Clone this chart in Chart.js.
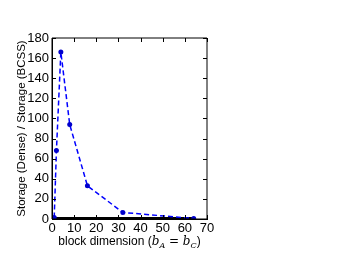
<!DOCTYPE html>
<html>
<head>
<meta charset="utf-8">
<script src="https://cdn.jsdelivr.net/npm/chart.js@4/dist/chart.umd.min.js"></script>
<style>
  html, body { margin: 0; padding: 0; background: #fff; }
  #wrap { width: 346px; height: 260px; position: relative; }
</style>
</head>
<body>
<div id="wrap"><canvas id="storageChart"></canvas></div>
<script>
// block sizes and storage ratio (dense / BCSS)
const blockDims = [1, 2, 4, 8, 16, 32, 64];
const ratioBCSS = [1.5, 68, 166, 94, 33, 6.5, 0.5];
const ratioBase = [1, 1, 1, 1, 1, 1, 1];
const xTicks = [0, 10, 20, 30, 40, 50, 60, 70];
const yTicks = [0, 20, 40, 60, 80, 100, 120, 140, 160, 180];

const toPoints = (xs, ys) => xs.map((x, i) => ({ x: x, y: ys[i] }));

// inward ticks on all four sides + top/right frame + x title with subscripts
const framePlugin = {
    id: 'frame',
    afterDraw(chart) {
        const ctx = chart.ctx;
        const a = chart.chartArea;
        const xs = chart.scales.x, ys = chart.scales.y;
        ctx.save();
        ctx.strokeStyle = '#000';
        ctx.lineWidth = 1;
        ctx.beginPath();
        ctx.rect(a.left, a.top, a.right - a.left, a.bottom - a.top);
        ctx.stroke();
        ctx.beginPath();
        xTicks.forEach(v => {
            const px = Math.round(xs.getPixelForValue(v)) + 0.5;
            ctx.moveTo(px, a.bottom); ctx.lineTo(px, a.bottom - 4);
            ctx.moveTo(px, a.top); ctx.lineTo(px, a.top + 4);
        });
        yTicks.forEach(v => {
            const py = Math.round(ys.getPixelForValue(v)) + 0.5;
            ctx.moveTo(a.left, py); ctx.lineTo(a.left + 4, py);
            ctx.moveTo(a.right, py); ctx.lineTo(a.right - 4, py);
        });
        ctx.stroke();

        // x axis title: block dimension (b_A = b_C)
        const parts = [
            { t: 'block dimension (', f: '12px "Liberation Sans"', dy: 0 },
            { t: 'b', f: 'italic 12px "DejaVu Serif"', dy: 0 },
            { t: 'A', f: 'italic 8px "DejaVu Serif"', dy: 3 },
            { t: ' = ', f: '12px "DejaVu Serif"', dy: 0 },
            { t: 'b', f: 'italic 12px "DejaVu Serif"', dy: 0 },
            { t: 'C', f: 'italic 8px "DejaVu Serif"', dy: 3 },
            { t: ')', f: '12px "Liberation Sans"', dy: 0 }
        ];
        let total = 0;
        parts.forEach(p => { ctx.font = p.f; p.w = ctx.measureText(p.t).width; total += p.w; });
        let x = (a.left + a.right) / 2 - total / 2;
        const baseY = 245;
        ctx.fillStyle = '#000';
        ctx.textBaseline = 'alphabetic';
        ctx.textAlign = 'left';
        parts.forEach(p => {
            ctx.font = p.f;
            ctx.fillText(p.t, x, baseY + p.dy);
            x += p.w;
        });
        ctx.restore();
    }
};

new Chart(document.getElementById('storageChart'), {
    type: 'scatter',
    data: {
        datasets: [{
            label: 'BCSS',
            data: toPoints(blockDims, ratioBCSS),
            showLine: true,
            borderColor: '#0000ff',
            backgroundColor: '#0000cc',
            borderWidth: 1.5,
            borderDash: [5, 3],
            pointRadius: 2.5,
            pointBorderWidth: 0,
            order: 0
        }, {
            label: 'Dense',
            data: toPoints(blockDims, ratioBase),
            showLine: true,
            borderColor: '#000',
            backgroundColor: '#000',
            borderWidth: 2,
            pointRadius: 0,
            order: 1
        }]
    },
    options: {
        responsive: true,
        maintainAspectRatio: false,
        animation: false,
        layout: {
            padding: { top: 38, right: 139, left: 0, bottom: 0 }
        },
        plugins: {
            legend: { display: false },
            tooltip: { enabled: false }
        },
        scales: {
            x: {
                type: 'linear',
                min: 0,
                max: 70,
                afterFit(scale) { scale.height = 41; },
                afterBuildTicks(scale) { scale.ticks = xTicks.map(v => ({ value: v })); },
                grid: { display: false, drawTicks: false },
                border: { display: true, color: '#000', width: 1 },
                ticks: {
                    color: '#000',
                    padding: 2,
                    font: { family: 'Liberation Sans', size: 13 },
                    maxRotation: 0
                }
            },
            y: {
                type: 'linear',
                min: 0,
                max: 180,
                afterFit(scale) { scale.width = 52; },
                afterBuildTicks(scale) { scale.ticks = yTicks.map(v => ({ value: v })); },
                grid: { display: false, drawTicks: false },
                border: { display: true, color: '#000', width: 1 },
                ticks: {
                    color: '#000',
                    padding: 3,
                    font: { family: 'Liberation Sans', size: 13 }
                },
                title: {
                    display: true,
                    text: 'Storage (Dense) / Storage (BCSS)',
                    color: '#000',
                    font: { family: 'Liberation Sans', size: 11.5 },
                    padding: { top: 15, bottom: 0 }
                }
            }
        }
    },
    plugins: [framePlugin]
});
</script>
</body>
</html>
